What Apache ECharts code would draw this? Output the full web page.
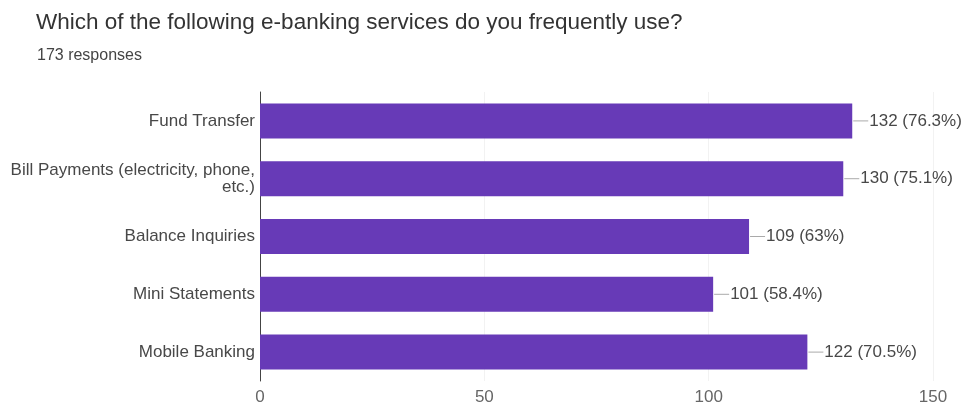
<!DOCTYPE html>
<html>
<head>
<meta charset="utf-8">
<script src="https://cdn.jsdelivr.net/npm/echarts@6/dist/echarts.min.js"></script>
<style>html,body{margin:0;padding:0;background:#fff}#c{width:963px;height:410px}</style>
</head>
<body>
<div id="c"></div>
<script>
var categories = ["Fund Transfer", "Bill Payments (electricity, phone, etc.)", "Balance Inquiries", "Mini Statements", "Mobile Banking"];
var counts = [132, 130, 109, 101, 122];
var percents = ["76.3%", "75.1%", "63%", "58.4%", "70.5%"];
var xTicks = [0, 50, 100, 150];
var title = "Which of the following e-banking services do you frequently use?";
var subtitle = "173 responses";

var chart = echarts.init(document.getElementById('c'), null, {renderer: 'canvas'});
var FONT = 'Liberation Sans, Arial, sans-serif';
chart.setOption({
  animation: false,
  backgroundColor: '#fff',
  title: [{
    text: title,
    left: 31, top: 6,
    textStyle: {fontFamily: FONT, fontSize: 22.5, fontWeight: 'normal', color: '#333'}
  }, {
    text: subtitle,
    left: 32, top: 43,
    textStyle: {fontFamily: FONT, fontSize: 16, fontWeight: 'normal', color: '#444'}
  }],
  grid: {left: 260, right: 30, top: 92, bottom: 29, containLabel: false},
  xAxis: {
    type: 'value', min: xTicks[0], max: xTicks[xTicks.length - 1], interval: 50,
    axisLine: {show: false}, axisTick: {show: false},
    splitLine: {show: true, lineStyle: {color: '#f2f2f2', width: 1}},
    axisLabel: {fontFamily: FONT, fontSize: 17, color: '#666', margin: 8}
  },
  yAxis: {
    type: 'category', data: categories, inverse: true,
    axisLine: {show: true, lineStyle: {color: '#444', width: 1}},
    axisTick: {show: false},
    axisLabel: {
      fontFamily: FONT, fontSize: 17, color: '#484848', margin: 5,
      width: 250, overflow: 'break', align: 'right', lineHeight: 17
    }
  },
  series: [{
    type: 'bar',
    data: counts,
    barWidth: 35,
    itemStyle: {color: '#673ab7'},
    label: {
      show: true, position: 'right', distance: 1,
      formatter: function (p) { return '{l|}{v|' + p.value + ' (' + percents[p.dataIndex] + ')}'; },
      rich: {
        l: {width: 15, height: 1, backgroundColor: '#aaa'},
        v: {fontFamily: FONT, fontSize: 17, color: '#484848', padding: [0, 0, 0, 1]}
      }
    }
  }]
});
</script>
</body>
</html>
